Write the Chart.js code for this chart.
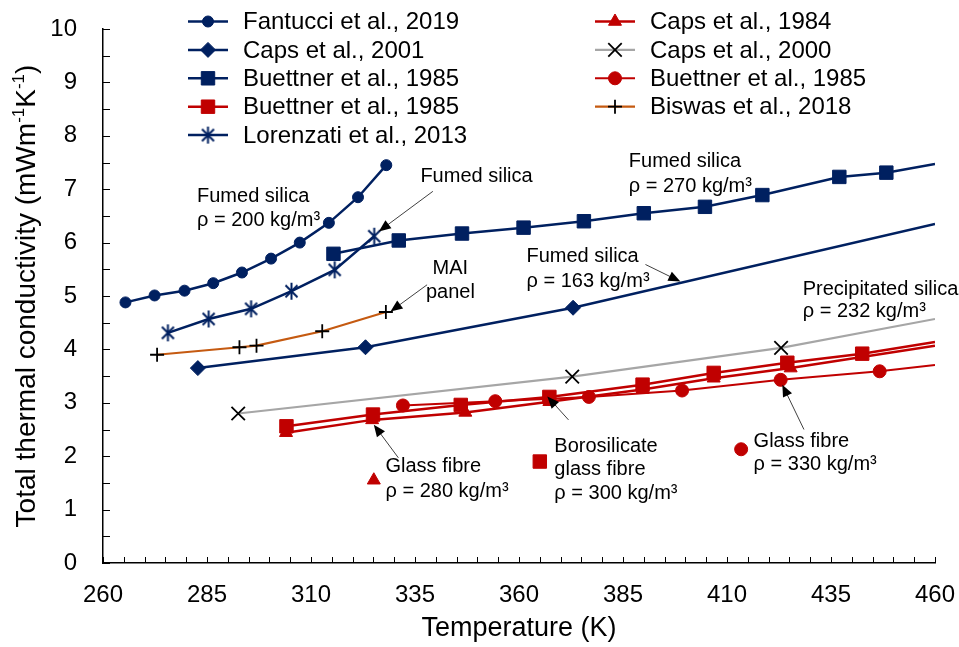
<!DOCTYPE html>
<html>
<head>
<meta charset="utf-8">
<script src="https://cdn.jsdelivr.net/npm/chart.js@4.4.1/dist/chart.umd.min.js"></script>
<style>
  html, body { margin: 0; padding: 0; background: #fff; }
</style>
</head>
<body>
<canvas id="chart" width="959" height="647"></canvas>
<script>
const FONT = "'Liberation Sans', Arial, sans-serif";
const NAVY = "#002060";
const RED = "#c00000";
const GREY = "#a6a6a6";
const BROWN = "#c55a11";

// right end of the axis, lines run on to it without a marker
const EDGE_T = 460;

// Fantucci et al., 2019 - fumed silica 200 kg/m3
const fantucciT = [265.4, 272.4, 279.6, 286.5, 293.4, 300.4, 307.3, 314.3, 321.3, 328.1];
const fantucciK = [4.88, 5.01, 5.10, 5.24, 5.44, 5.70, 6.00, 6.37, 6.85, 7.45];

// Caps et al., 2001 - fumed silica 163 kg/m3
const caps2001T = [282.8, 323.1, 373.0];
const caps2001K = [3.65, 4.04, 4.78];
const caps2001Edge = 6.35;

// Buettner et al., 1985 - fumed silica 270 kg/m3
const buettnerFumedT = [315.4, 331.1, 346.3, 361.1, 375.6, 390.0, 404.7, 418.5, 437.0, 448.3];
const buettnerFumedK = [5.79, 6.04, 6.17, 6.28, 6.40, 6.55, 6.67, 6.89, 7.23, 7.31];
const buettnerFumedEdge = 7.47;

// Buettner et al., 1985 - borosilicate glass fibre 300 kg/m3
const buettnerBoroT = [304.1, 324.9, 346.0, 367.3, 389.7, 406.8, 424.5, 442.5];
const buettnerBoroK = [2.56, 2.78, 2.96, 3.11, 3.34, 3.56, 3.75, 3.92];
const buettnerBoroEdge = 4.14;

// Lorenzati et al., 2013 - fumed silica
const lorenzatiT = [275.6, 285.4, 295.6, 305.3, 315.7, 325.2];
const lorenzatiK = [4.31, 4.57, 4.76, 5.09, 5.49, 6.12];

// Caps et al., 1984 - glass fibre 280 kg/m3
const caps1984T = [304.0, 324.7, 347.1, 367.3, 389.7, 406.8, 425.3];
const caps1984K = [2.44, 2.68, 2.82, 3.02, 3.25, 3.46, 3.65];
const caps1984Edge = 4.07;

// Caps et al., 2000 - precipitated silica 232 kg/m3
const caps2000T = [292.5, 372.8, 423.0];
const caps2000K = [2.80, 3.49, 4.03];
const caps2000Edge = 4.57;

// Buettner et al., 1985 - glass fibre 330 kg/m3
const buettnerGlassT = [332.1, 354.3, 376.8, 399.2, 422.9, 446.7];
const buettnerGlassK = [2.95, 3.03, 3.11, 3.23, 3.43, 3.59];
const buettnerGlassEdge = 3.71;

// Biswas et al., 2018 - MAI panel
const biswasT = [273.0, 292.8, 296.9, 312.7, 328.0];
const biswasK = [3.90, 4.04, 4.07, 4.34, 4.70];

// axis ticks
const xMin = 260, xMax = 460, xStep = 25, xMinor = 5;
const yMin = 0, yMax = 10, yStep = 1, yMinor = 0.5;

// asterisk marker (vertical bar + x), like the office one
function makeAsterisk(size, color, lw) {
  const c = document.createElement("canvas");
  c.width = c.height = size;
  const g = c.getContext("2d");
  const m = size / 2, r = size / 2 - 1, d = r * Math.SQRT1_2;
  g.strokeStyle = color;
  g.lineWidth = lw;
  g.beginPath();
  g.moveTo(m, m - r); g.lineTo(m, m + r);
  g.moveTo(m - d, m - d); g.lineTo(m + d, m + d);
  g.moveTo(m - d, m + d); g.lineTo(m + d, m - d);
  g.stroke();
  return c;
}
const asterisk = makeAsterisk(19, NAVY, 2);

function points(ts, ks, edge) {
  const d = ts.map((t, i) => ({ x: t, y: ks[i] }));
  if (edge !== undefined) d.push({ x: EDGE_T, y: edge });
  return d;
}

function series(label, ts, ks, edge, s) {
  return {
    label: label,
    data: points(ts, ks, edge),
    borderColor: s.line,
    borderWidth: s.width,
    pointStyle: s.marker,
    pointBackgroundColor: s.fill,
    pointBorderColor: s.stroke,
    pointBorderWidth: s.pw,
    pointRadius: (c) => (c.dataIndex < ts.length ? s.r : 0),
    pointHoverRadius: 0,
    tension: 0,
    fill: false,
  };
}

const navyCircle = { line: NAVY, width: 2.5, marker: "circle", fill: NAVY, stroke: NAVY, pw: 1, r: 5.5 };
const navyDiamond = { line: NAVY, width: 2.5, marker: "rectRot", fill: NAVY, stroke: NAVY, pw: 1, r: 7.5 };
const navySquare = { line: NAVY, width: 2.5, marker: "rect", fill: NAVY, stroke: NAVY, pw: 1, r: 9.5 };
const redSquare = { line: RED, width: 2.5, marker: "rect", fill: RED, stroke: RED, pw: 1, r: 9.5 };
const navyStar = { line: NAVY, width: 2.5, marker: asterisk, fill: NAVY, stroke: NAVY, pw: 1, r: 9 };
const redTriangle = { line: RED, width: 2.5, marker: "triangle", fill: RED, stroke: RED, pw: 1, r: 7.5 };
const greyCross = { line: GREY, width: 2.2, marker: "crossRot", fill: "#000", stroke: "#000", pw: 1.8, r: 9.5 };
const redCircle = { line: RED, width: 2, marker: "circle", fill: RED, stroke: RED, pw: 1, r: 6.5 };
const brownPlus = { line: BROWN, width: 2.2, marker: "cross", fill: "#000", stroke: "#000", pw: 1.8, r: 7 };

const datasets = [
  series("Fantucci et al., 2019", fantucciT, fantucciK, undefined, navyCircle),
  series("Caps et al., 2001", caps2001T, caps2001K, caps2001Edge, navyDiamond),
  series("Buettner et al., 1985", buettnerFumedT, buettnerFumedK, buettnerFumedEdge, navySquare),
  series("Buettner et al., 1985", buettnerBoroT, buettnerBoroK, buettnerBoroEdge, redSquare),
  series("Lorenzati et al., 2013", lorenzatiT, lorenzatiK, undefined, navyStar),
  series("Caps et al., 1984", caps1984T, caps1984K, caps1984Edge, redTriangle),
  series("Caps et al., 2000", caps2000T, caps2000K, caps2000Edge, greyCross),
  series("Buettner et al., 1985", buettnerGlassT, buettnerGlassK, buettnerGlassEdge, redCircle),
  series("Biswas et al., 2018", biswasT, biswasK, undefined, brownPlus),
];

// legend layout: two columns, first five entries left, the rest right
const legendCols = [
  { lineX: 188, textX: 243, items: [0, 1, 2, 3, 4] },
  { lineX: 595, textX: 650, items: [5, 6, 7, 8] },
];

// text notes in data units [T, k]
const notes = [
  { lines: ["Fumed silica", "ρ = 200 kg/m³"], at: [282.6, 6.87], gap: 0.45 },
  { lines: ["Fumed silica"], at: [336.3, 7.24], gap: 0 },
  { lines: ["MAI", "panel"], at: [343.5, 5.52], gap: 0.46, center: true },
  { lines: ["Fumed silica", "ρ = 163 kg/m³"], at: [361.8, 5.74], gap: 0.47 },
  { lines: ["Fumed silica", "ρ = 270 kg/m³"], at: [386.4, 7.52], gap: 0.47 },
  { lines: ["Precipitated silica", "ρ = 232 kg/m³"], at: [428.2, 5.13], gap: 0.42 },
  { lines: ["Glass fibre", "ρ = 280 kg/m³"], at: [327.9, 1.80], gap: 0.46 },
  { lines: ["Borosilicate", "glass fibre", "ρ = 300 kg/m³"], at: [368.5, 2.18], gap: 0.435 },
  { lines: ["Glass fibre", "ρ = 330 kg/m³"], at: [416.4, 2.28], gap: 0.44 },
];

// arrows [tail T, tail k, tip T, tip k]
const arrows = [
  [339.3, 6.96, 326.3, 6.21],
  [337.9, 5.21, 329.1, 4.71],
  [390.4, 5.59, 398.8, 5.27],
  [331.0, 1.97, 325.1, 2.59],
  [371.9, 2.68, 366.8, 3.12],
  [428.5, 2.50, 423.3, 3.34],
];

// lone markers beside the glass fibre notes [T, k, dataset index]
const noteMarkers = [
  [325.1, 1.55, 5],
  [365.0, 1.90, 3],
  [413.4, 2.13, 7],
];

function drawMarker(ctx, ds, x, y) {
  ctx.save();
  ctx.fillStyle = ds.pointBackgroundColor;
  ctx.strokeStyle = ds.pointBorderColor;
  ctx.lineWidth = ds.pointBorderWidth;
  const r = ds.pointRadius({ dataIndex: 0 });
  Chart.helpers.drawPoint(ctx, { pointStyle: ds.pointStyle, rotation: 0, radius: r, borderWidth: ds.pointBorderWidth }, x, y);
  ctx.restore();
}

const innerTicks = {
  id: "innerTicks",
  afterDatasetsDraw(chart) {
    const { ctx, scales: { x, y } } = chart;
    ctx.save();
    ctx.strokeStyle = "#000";
    ctx.lineWidth = 1;
    ctx.beginPath();
    for (let t = xMin; t <= xMax + 0.01; t += xMinor) {
      const px = Math.round(x.getPixelForValue(t)) + 0.5;
      ctx.moveTo(px, y.bottom);
      ctx.lineTo(px, y.bottom - 6);
    }
    for (let v = yMin; v <= yMax + 0.01; v += yMinor) {
      const py = Math.round(y.getPixelForValue(v)) + 0.5;
      ctx.moveTo(x.left, py);
      ctx.lineTo(x.left + 7, py);
    }
    ctx.stroke();
    ctx.restore();
  },
};

const yTitle = {
  id: "yTitle",
  afterDraw(chart) {
    const { ctx, chartArea } = chart;
    const big = "28px " + FONT, small = "17px " + FONT;
    const parts = [["Total thermal conductivity (mWm", false], ["-1", true], ["K", false], ["-1", true], [")", false]];
    ctx.save();
    let w = 0;
    parts.forEach(([t, s]) => { ctx.font = s ? small : big; w += ctx.measureText(t).width; });
    ctx.translate(27, (chartArea.top + chartArea.bottom) / 2);
    ctx.rotate(-Math.PI / 2);
    ctx.fillStyle = "#000";
    ctx.textBaseline = "middle";
    let cx = -w / 2;
    parts.forEach(([t, s]) => {
      ctx.font = s ? small : big;
      ctx.fillText(t, cx, s ? -8 : 0);
      cx += ctx.measureText(t).width;
    });
    ctx.restore();
  },
};

const annotations = {
  id: "annotations",
  afterDatasetsDraw(chart) {
    const { ctx, scales: { x, y } } = chart;
    ctx.save();
    ctx.fillStyle = "#000";
    ctx.font = "20px " + FONT;
    ctx.textBaseline = "middle";
    notes.forEach((n) => {
      ctx.textAlign = n.center ? "center" : "left";
      n.lines.forEach((line, i) => {
        ctx.fillText(line, x.getPixelForValue(n.at[0]), y.getPixelForValue(n.at[1] - i * n.gap));
      });
    });
    arrows.forEach(([t0, k0, t1, k1]) => {
      const x0 = x.getPixelForValue(t0), y0 = y.getPixelForValue(k0);
      const x1 = x.getPixelForValue(t1), y1 = y.getPixelForValue(k1);
      const a = Math.atan2(y1 - y0, x1 - x0);
      const len = 12, half = 5;
      ctx.strokeStyle = "#404040";
      ctx.lineWidth = 1;
      ctx.beginPath();
      ctx.moveTo(x0, y0);
      ctx.lineTo(x1 - Math.cos(a) * len * 0.8, y1 - Math.sin(a) * len * 0.8);
      ctx.stroke();
      ctx.fillStyle = "#000";
      ctx.beginPath();
      ctx.moveTo(x1, y1);
      ctx.lineTo(x1 - Math.cos(a) * len - Math.sin(a) * half, y1 - Math.sin(a) * len + Math.cos(a) * half);
      ctx.lineTo(x1 - Math.cos(a) * len + Math.sin(a) * half, y1 - Math.sin(a) * len - Math.cos(a) * half);
      ctx.closePath();
      ctx.fill();
    });
    noteMarkers.forEach(([t, k, i]) => {
      drawMarker(ctx, chart.data.datasets[i], x.getPixelForValue(t), y.getPixelForValue(k));
    });
    ctx.restore();
  },
};

const legendBox = {
  id: "legendBox",
  afterDraw(chart) {
    const { ctx } = chart;
    const rowY = 21.5, rowGap = 28.4;
    ctx.save();
    ctx.font = "24px " + FONT;
    ctx.textBaseline = "middle";
    ctx.textAlign = "left";
    legendCols.forEach((col) => {
      col.items.forEach((idx, row) => {
        const ds = chart.data.datasets[idx];
        const yy = rowY + row * rowGap;
        ctx.strokeStyle = ds.borderColor;
        ctx.lineWidth = ds.borderWidth;
        ctx.beginPath();
        ctx.moveTo(col.lineX, yy);
        ctx.lineTo(col.lineX + 40, yy);
        ctx.stroke();
        drawMarker(ctx, ds, col.lineX + 20, yy);
        ctx.fillStyle = "#000";
        ctx.fillText(ds.label, col.textX, yy + 1);
      });
    });
    ctx.restore();
  },
};

const tickFont = { family: FONT, size: 24 };

new Chart(document.getElementById("chart"), {
  type: "line",
  data: { datasets: datasets },
  options: {
    responsive: false,
    animation: false,
    events: [],
    layout: { padding: { top: 29, right: 24, left: 0, bottom: 0 } },
    plugins: { legend: { display: false }, tooltip: { enabled: false } },
    scales: {
      x: {
        type: "linear",
        min: xMin,
        max: xMax,
        afterFit: (s) => { s.height = 84; s.paddingLeft = 0; s.paddingRight = 0; },
        afterBuildTicks: (s) => {
          const t = [];
          for (let v = xMin; v <= xMax; v += xStep) t.push({ value: v });
          s.ticks = t;
        },
        ticks: { color: "#000", font: tickFont, padding: 10, maxRotation: 0, autoSkip: false },
        grid: { display: false },
        border: { display: true, color: "#000", width: 1.5 },
        title: {
          display: true,
          text: "Temperature (K)",
          color: "#000",
          font: { family: FONT, size: 27 },
          padding: { top: 0, bottom: 2 },
        },
      },
      y: {
        type: "linear",
        min: yMin,
        max: yMax,
        afterFit: (s) => { s.width = 103; s.paddingTop = 0; s.paddingBottom = 0; },
        ticks: { stepSize: yStep, color: "#000", font: tickFont, padding: 18 },
        grid: { display: false },
        border: { display: true, color: "#000", width: 1.5 },
      },
    },
  },
  plugins: [innerTicks, annotations, yTitle, legendBox],
});
</script>
</body>
</html>
